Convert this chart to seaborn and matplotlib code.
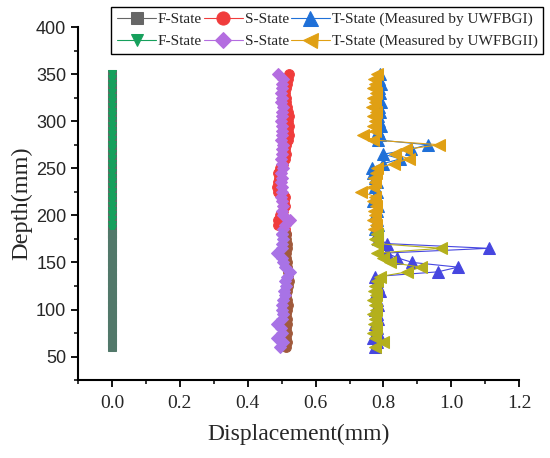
import matplotlib
matplotlib.use('Agg')
import numpy as np
import pandas as pd
import matplotlib.pyplot as plt
from matplotlib.ticker import MultipleLocator
import seaborn as sns

# depth of each measuring point (mm)
depth = [60, 65, 70, 75, 80, 85, 90, 95, 100, 105, 110, 115, 120, 125, 130,
         135, 140, 145, 150, 155, 160, 165, 170, 175, 180, 185, 190, 195, 200,
         205, 210, 215, 220, 225, 230, 235, 240, 245, 250, 255, 260, 265, 270,
         275, 280, 285, 290, 295, 300, 305, 310, 315, 320, 325, 330, 335, 340,
         345, 350]

# F-State (both series sit on zero)
f_state_1 = [0.0, 0.0, 0.0, 0.0, 0.0, 0.0, 0.0, 0.0, 0.0, 0.0, 0.0, 0.0, 0.0, 0.0, 0.0,
             0.0, 0.0, 0.0, 0.0, 0.0, 0.0, 0.0, 0.0, 0.0, 0.0, 0.0, 0.0, 0.0, 0.0,
             0.0, 0.0, 0.0, 0.0, 0.0, 0.0, 0.0, 0.0, 0.0, 0.0, 0.0, 0.0, 0.0, 0.0,
             0.0, 0.0, 0.0, 0.0, 0.0, 0.0, 0.0, 0.0, 0.0, 0.0, 0.0, 0.0, 0.0, 0.0,
             0.0, 0.0]
f_state_2 = [0.0, 0.0, 0.0, 0.0, 0.0, 0.0, 0.0, 0.0, 0.0, 0.0, 0.0, 0.0, 0.0, 0.0, 0.0,
             0.0, 0.0, 0.0, 0.0, 0.0, 0.0, 0.0, 0.0, 0.0, 0.0, 0.0, 0.0, 0.0, 0.0,
             0.0, 0.0, 0.0, 0.0, 0.0, 0.0, 0.0, 0.0, 0.0, 0.0, 0.0, 0.0, 0.0, 0.0,
             0.0, 0.0, 0.0, 0.0, 0.0, 0.0, 0.0, 0.0, 0.0, 0.0, 0.0, 0.0, 0.0, 0.0,
             0.0, 0.0]

# S-State
s_state_1 = [0.512, 0.515, 0.513, 0.516, 0.514, 0.517, 0.515, 0.513, 0.516, 0.518,
             0.515, 0.514, 0.517, 0.520, 0.521, 0.520, 0.518, 0.516, 0.515, 0.513,
             0.514, 0.516, 0.515, 0.513, 0.512, 0.510, 0.490, 0.488, 0.495, 0.505,
             0.510, 0.508, 0.510, 0.490, 0.487, 0.489, 0.492, 0.488, 0.495, 0.505,
             0.510, 0.512, 0.510, 0.513, 0.520, 0.522, 0.520, 0.523, 0.518, 0.521,
             0.520, 0.515, 0.512, 0.514, 0.511, 0.513, 0.516, 0.520, 0.522]
s_state_2 = [0.495, 0.505, 0.485, 0.500, 0.498, 0.485, 0.500, 0.505, 0.502, 0.500,
             0.505, 0.510, 0.508, 0.512, 0.510, 0.515, 0.525, 0.510, 0.505, 0.500,
             0.485, 0.500, 0.502, 0.503, 0.500, 0.505, 0.510, 0.525, 0.505, 0.500,
             0.503, 0.500, 0.498, 0.502, 0.500, 0.497, 0.501, 0.499, 0.503, 0.500,
             0.498, 0.502, 0.500, 0.503, 0.499, 0.501, 0.500, 0.502, 0.498, 0.501,
             0.500, 0.503, 0.499, 0.501, 0.498, 0.502, 0.500, 0.505, 0.488]

# T-State
t_state_1 = [0.775, 0.780, 0.770, 0.785, 0.780, 0.775, 0.785, 0.780, 0.775, 0.785,
             0.780, 0.775, 0.790, 0.785, 0.780, 0.775, 0.960, 1.020, 0.885, 0.840,
             0.810, 1.110, 0.810, 0.785, 0.780, 0.775, 0.785, 0.780, 0.775, 0.780,
             0.785, 0.770, 0.775, 0.780, 0.775, 0.780, 0.775, 0.770, 0.765, 0.800,
             0.850, 0.800, 0.880, 0.930, 0.785, 0.790, 0.785, 0.792, 0.788, 0.785,
             0.790, 0.787, 0.792, 0.785, 0.790, 0.788, 0.792, 0.786, 0.790]
t_state_2 = [0.775, 0.800, 0.775, 0.770, 0.778, 0.772, 0.776, 0.770, 0.778, 0.774,
             0.770, 0.777, 0.772, 0.776, 0.780, 0.790, 0.870, 0.910, 0.820, 0.800,
             0.780, 0.970, 0.780, 0.775, 0.780, 0.772, 0.778, 0.770, 0.776, 0.772,
             0.778, 0.770, 0.775, 0.735, 0.770, 0.776, 0.772, 0.778, 0.780, 0.830,
             0.875, 0.835, 0.865, 0.965, 0.770, 0.740, 0.775, 0.768, 0.776, 0.770,
             0.778, 0.766, 0.775, 0.770, 0.778, 0.768, 0.776, 0.772, 0.780]

labels = ['F-State', 'F-State', 'S-State', 'S-State',
          'T-State (Measured by UWFBGI)', 'T-State (Measured by UWFBGII)']
values = [f_state_1, f_state_2, s_state_1, s_state_2, t_state_1, t_state_2]
split_depth = 180

# marker, size, colour (upper part), colour (lower part), z upper, z lower
styles = [
    ('s', 6, '#666666', '#52786a', 2, 4),
    ('v', 6, '#16a05c', '#16a05c', 3, 3),
    ('o', 7, '#f03c3c', '#a05a3c', 2, 2),
    ('D', 6, '#b46de0', '#a873e6', 3, 3),
    ('^', 8, '#1f70d8', '#4646e0', 2, 2),
    ('<', 8, '#e0a014', '#b4b01c', 3, 3),
]

sns.set_style('ticks')
plt.rcParams['font.family'] = ['Liberation Serif', 'DejaVu Serif']

fig = plt.figure(figsize=(5.5, 4.58), dpi=100)
ax = fig.add_axes([0.142, 0.170, 0.802, 0.771])

for lab, vals, st in zip(labels, values, styles):
    mk, ms, c_up, c_low, z_up, z_low = st
    df = pd.DataFrame({'disp': vals, 'depth': depth})
    up = df[df['depth'] >= split_depth]
    low = df[df['depth'] <= split_depth]
    sns.lineplot(data=up, x='disp', y='depth', orient='y', estimator=None,
                 color=c_up, lw=0.8, marker=mk, markersize=ms,
                 markeredgecolor=c_up, label=lab, zorder=z_up, ax=ax)
    sns.lineplot(data=low, x='disp', y='depth', orient='y', estimator=None,
                 color=c_low, lw=0.8, marker=mk, markersize=ms,
                 markeredgecolor=c_low, legend=False, zorder=z_low, ax=ax)

ax.set_xlim(-0.1, 1.2)
ax.set_ylim(25, 400)
ax.xaxis.set_major_locator(MultipleLocator(0.2))
ax.xaxis.set_minor_locator(MultipleLocator(0.1))
ax.yaxis.set_major_locator(MultipleLocator(50))
ax.yaxis.set_minor_locator(MultipleLocator(25))
ax.set_xticks([0.0, 0.2, 0.4, 0.6, 0.8, 1.0, 1.2])
ax.set_xticklabels(['0.0', '0.2', '0.4', '0.6', '0.8', '1.0', '1.2'], fontsize=14)
ax.set_yticks([50, 100, 150, 200, 250, 300, 350, 400])
ax.set_yticklabels(['50', '100', '150', '200', '250', '300', '350', '400'],
                   fontsize=13, family=['Liberation Sans', 'DejaVu Sans'])
ax.tick_params(which='major', direction='out', length=5, width=1.3, color='black')
ax.tick_params(which='minor', direction='out', length=3, width=1.1, color='black')
ax.tick_params(axis='x', pad=6)

sns.despine(ax=ax)
for s in ['left', 'bottom']:
    ax.spines[s].set_linewidth(1.5)
    ax.spines[s].set_color('black')

ax.set_xlabel('Displacement(mm)', fontsize=17, labelpad=8)
ax.set_ylabel('Depth(mm)', fontsize=17.5, labelpad=3)

handles, labs = ax.get_legend_handles_labels()
leg = ax.legend(handles, labs, ncol=3, loc='upper right',
                bbox_to_anchor=(543 / 550, 1 - 7 / 458), bbox_transform=fig.transFigure,
                fontsize=11, frameon=True, fancybox=False, framealpha=1,
                edgecolor='black', columnspacing=0.1, handlelength=2.6,
                handletextpad=0.1, borderpad=0.35, labelspacing=0.55,
                borderaxespad=0, markerscale=1.35)
leg.get_frame().set_linewidth(1.0)

fig.savefig('out.png', dpi=100)
